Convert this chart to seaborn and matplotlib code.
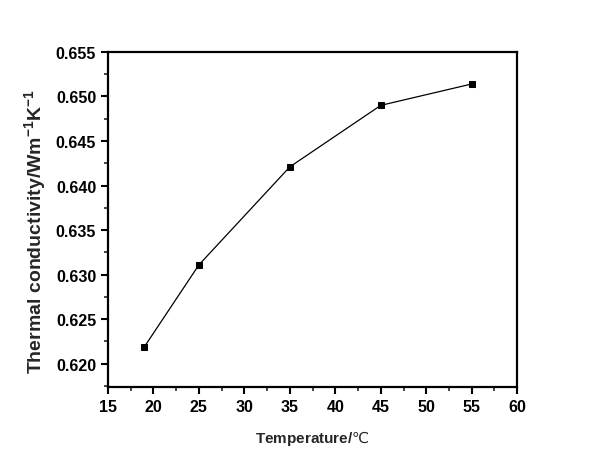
import matplotlib
matplotlib.use('Agg')
import matplotlib.pyplot as plt
import seaborn as sns
import pandas as pd
from matplotlib.ticker import MultipleLocator, AutoMinorLocator, FormatStrFormatter

# data
temperature = [19, 25, 35, 45, 55]
conductivity = [0.6219, 0.6311, 0.6421, 0.6490, 0.6514]

df = pd.DataFrame({'T': temperature, 'k': conductivity})

sns.set_style('ticks')
plt.rcParams['font.family'] = ['Liberation Sans', 'DejaVu Sans']
plt.rcParams['mathtext.fontset'] = 'custom'
plt.rcParams['mathtext.rm'] = 'Liberation Sans'
plt.rcParams['mathtext.bf'] = 'Liberation Sans:bold'

fig = plt.figure(figsize=(6, 4.64), dpi=100)
ax = fig.add_axes([0.18, 0.164, 0.682, 0.722])

sns.lineplot(data=df, x='T', y='k', ax=ax, color='black', linewidth=0.9,
             marker='s', markersize=4.5, markeredgecolor='black')

ax.set_xlim(15, 60)
ax.set_ylim(0.6174, 0.655)
ax.xaxis.set_major_locator(MultipleLocator(5))
ax.xaxis.set_minor_locator(AutoMinorLocator(2))
ax.yaxis.set_major_locator(MultipleLocator(0.005))
ax.yaxis.set_minor_locator(AutoMinorLocator(2))
ax.yaxis.set_major_formatter(FormatStrFormatter('%.3f'))

for s in ax.spines.values():
    s.set_linewidth(1.6)
    s.set_color('black')
ax.tick_params(which='major', direction='out', length=5, width=1.5,
               labelsize=11.5, colors='black', top=False, right=False)
ax.tick_params(which='minor', direction='out', length=3, width=1.2,
               top=False, right=False)
for lab in ax.get_xticklabels() + ax.get_yticklabels():
    lab.set_fontweight('bold')

# bold word, thin degree sign (DejaVu has the glyph) as in the reference
ax.set_xlabel('$\\mathbf{Temperature/}$\u2103', fontsize=11, labelpad=10,
              fontfamily='DejaVu Sans')
ax.set_ylabel('Thermal conductivity/Wm$^{\\mathbf{-1}}$K$^{\\mathbf{-1}}$',
              fontsize=14, fontweight='bold')
ax.yaxis.set_label_coords(-0.143, 0.467)

fig.savefig('out.png', dpi=100)
